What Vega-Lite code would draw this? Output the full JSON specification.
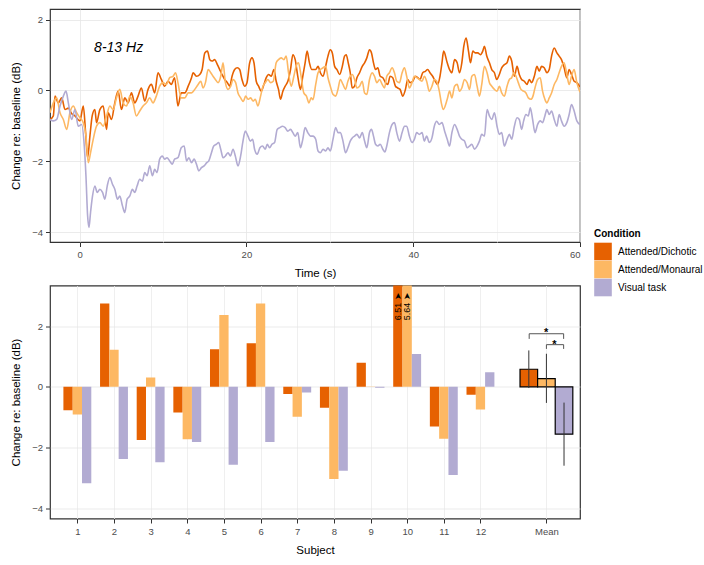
{
"$schema": "https://vega.github.io/schema/vega-lite/v6.json",
"background": "white",
"padding": {"left": 10, "top": 8, "right": 5, "bottom": 5},
"spacing": 43.5,
"bounds": "flush",
"resolve": {"legend": {"color": "independent"}},
"config": {
  "font": "Liberation Sans",
  "view": {"stroke": "#333333", "strokeWidth": 1.2},
  "axis": {"domain": false, "labelFontSize": 9.5, "labelColor": "#4d4d4d", "tickColor": "#333333", "tickSize": 4.5, "labelPadding": 3, "titleFontSize": 11.5, "titleFontWeight": "normal", "titleColor": "#000000", "gridWidth": 0.8},
  "axisY": {"titlePadding": 10},
  "axisX": {"titlePadding": 8},
  "legend": {"padding": 0, "titleFontSize": 10, "titleFontWeight": "bold", "titleColor": "#000000", "labelFontSize": 10, "labelColor": "#000000", "symbolType": "square", "symbolSize": 310, "rowPadding": 0, "symbolStrokeWidth": 0, "labelOffset": 6, "titlePadding": 4, "symbolOpacity": 1}
},
"datasets": {
"eeg": [
{"time":-3.55,"value":-0.82,"condition":"D"},{"time":-3.15,"value":-0.72,"condition":"D"},{"time":-2.95,"value":-0.16,"condition":"D"},{"time":-2.55,"value":-0.35,"condition":"D"},{"time":-2.15,"value":-0.21,"condition":"D"},{"time":-1.75,"value":-0.54,"condition":"D"},{"time":-1.35,"value":-0.5,"condition":"D"},{"time":-0.96,"value":-0.65,"condition":"D"},{"time":-0.56,"value":-0.72,"condition":"D"},{"time":0.04,"value":-0.86,"condition":"D"},{"time":0.44,"value":-0.44,"condition":"D"},{"time":0.72,"value":-1.19,"condition":"D"},{"time":0.96,"value":-1.9,"condition":"D"},{"time":1.24,"value":-1.28,"condition":"D"},{"time":1.51,"value":-0.72,"condition":"D"},{"time":1.83,"value":-0.54,"condition":"D"},{"time":2.03,"value":-0.91,"condition":"D"},{"time":2.43,"value":-0.54,"condition":"D"},{"time":2.83,"value":-0.44,"condition":"D"},{"time":3.23,"value":-1.1,"condition":"D"},{"time":3.43,"value":-0.63,"condition":"D"},{"time":3.82,"value":-0.82,"condition":"D"},{"time":4.22,"value":-0.35,"condition":"D"},{"time":4.62,"value":-0.02,"condition":"D"},{"time":5.02,"value":-0.54,"condition":"D"},{"time":5.42,"value":-0.21,"condition":"D"},{"time":5.82,"value":-0.35,"condition":"D"},{"time":6.22,"value":-0.07,"condition":"D"},{"time":6.61,"value":-0.35,"condition":"D"},{"time":7.01,"value":-0.16,"condition":"D"},{"time":7.41,"value":0.07,"condition":"D"},{"time":7.81,"value":-0.3,"condition":"D"},{"time":8.21,"value":0.03,"condition":"D"},{"time":8.61,"value":0.17,"condition":"D"},{"time":9.0,"value":-0.07,"condition":"D"},{"time":9.4,"value":0.5,"condition":"D"},{"time":9.8,"value":0.31,"condition":"D"},{"time":10.2,"value":0.12,"condition":"D"},{"time":10.6,"value":0.26,"condition":"D"},{"time":11.0,"value":0.17,"condition":"D"},{"time":11.39,"value":0.36,"condition":"D"},{"time":11.79,"value":-0.44,"condition":"D"},{"time":12.19,"value":-0.07,"condition":"D"},{"time":12.62,"value":-0.07,"condition":"D"},{"time":13.02,"value":0.12,"condition":"D"},{"time":13.42,"value":0.36,"condition":"D"},{"time":13.61,"value":0.5,"condition":"D"},{"time":14.01,"value":0.4,"condition":"D"},{"time":14.41,"value":0.45,"condition":"D"},{"time":14.69,"value":0.59,"condition":"D"},{"time":15.01,"value":1.06,"condition":"D"},{"time":15.33,"value":1.11,"condition":"D"},{"time":15.61,"value":0.87,"condition":"D"},{"time":15.89,"value":0.83,"condition":"D"},{"time":16.2,"value":0.87,"condition":"D"},{"time":16.52,"value":0.73,"condition":"D"},{"time":16.8,"value":0.59,"condition":"D"},{"time":17.08,"value":0.45,"condition":"D"},{"time":17.4,"value":0.31,"condition":"D"},{"time":17.72,"value":0.22,"condition":"D"},{"time":18.0,"value":0.12,"condition":"D"},{"time":18.28,"value":0.4,"condition":"D"},{"time":18.59,"value":0.59,"condition":"D"},{"time":18.91,"value":0.64,"condition":"D"},{"time":19.19,"value":0.59,"condition":"D"},{"time":19.47,"value":0.31,"condition":"D"},{"time":19.79,"value":0.12,"condition":"D"},{"time":20.07,"value":0.22,"condition":"D"},{"time":20.39,"value":0.78,"condition":"D"},{"time":20.67,"value":0.92,"condition":"D"},{"time":20.91,"value":0.78,"condition":"D"},{"time":21.18,"value":0.26,"condition":"D"},{"time":21.46,"value":0.12,"condition":"D"},{"time":21.78,"value":-0.02,"condition":"D"},{"time":22.1,"value":0.17,"condition":"D"},{"time":22.38,"value":0.36,"condition":"D"},{"time":22.66,"value":0.45,"condition":"D"},{"time":22.98,"value":0.4,"condition":"D"},{"time":23.3,"value":0.59,"condition":"D"},{"time":23.57,"value":0.26,"condition":"D"},{"time":23.85,"value":0.03,"condition":"D"},{"time":24.09,"value":-0.25,"condition":"D"},{"time":24.37,"value":-0.02,"condition":"D"},{"time":24.65,"value":0.12,"condition":"D"},{"time":24.97,"value":0.26,"condition":"D"},{"time":25.29,"value":0.59,"condition":"D"},{"time":25.57,"value":1.01,"condition":"D"},{"time":25.85,"value":0.87,"condition":"D"},{"time":26.16,"value":0.4,"condition":"D"},{"time":26.48,"value":0.03,"condition":"D"},{"time":26.76,"value":0.4,"condition":"D"},{"time":27.04,"value":0.78,"condition":"D"},{"time":27.28,"value":1.11,"condition":"D"},{"time":27.56,"value":0.78,"condition":"D"},{"time":27.84,"value":0.59,"condition":"D"},{"time":28.31,"value":0.59,"condition":"D"},{"time":28.59,"value":0.68,"condition":"D"},{"time":28.87,"value":0.5,"condition":"D"},{"time":29.19,"value":0.4,"condition":"D"},{"time":29.5,"value":0.68,"condition":"D"},{"time":29.78,"value":0.97,"condition":"D"},{"time":30.06,"value":1.15,"condition":"D"},{"time":30.3,"value":1.06,"condition":"D"},{"time":30.58,"value":0.68,"condition":"D"},{"time":30.86,"value":0.59,"condition":"D"},{"time":31.18,"value":0.45,"condition":"D"},{"time":31.5,"value":0.68,"condition":"D"},{"time":31.77,"value":0.97,"condition":"D"},{"time":31.97,"value":1.01,"condition":"D"},{"time":32.21,"value":0.78,"condition":"D"},{"time":32.45,"value":0.5,"condition":"D"},{"time":32.69,"value":0.07,"condition":"D"},{"time":32.97,"value":0.12,"condition":"D"},{"time":33.25,"value":0.36,"condition":"D"},{"time":33.57,"value":0.5,"condition":"D"},{"time":33.89,"value":0.68,"condition":"D"},{"time":34.17,"value":0.78,"condition":"D"},{"time":34.44,"value":0.92,"condition":"D"},{"time":34.76,"value":1.15,"condition":"D"},{"time":35.0,"value":1.06,"condition":"D"},{"time":35.24,"value":0.78,"condition":"D"},{"time":35.48,"value":0.59,"condition":"D"},{"time":35.76,"value":0.64,"condition":"D"},{"time":36.04,"value":0.4,"condition":"D"},{"time":36.36,"value":0.36,"condition":"D"},{"time":36.68,"value":0.22,"condition":"D"},{"time":36.95,"value":0.17,"condition":"D"},{"time":37.23,"value":0.4,"condition":"D"},{"time":37.55,"value":0.36,"condition":"D"},{"time":37.87,"value":0.12,"condition":"D"},{"time":38.15,"value":0.07,"condition":"D"},{"time":38.43,"value":0.03,"condition":"D"},{"time":38.75,"value":-0.16,"condition":"D"},{"time":39.07,"value":0.03,"condition":"D"},{"time":39.34,"value":0.31,"condition":"D"},{"time":39.62,"value":0.22,"condition":"D"},{"time":39.94,"value":0.26,"condition":"D"},{"time":40.26,"value":0.4,"condition":"D"},{"time":40.54,"value":0.36,"condition":"D"},{"time":40.82,"value":0.31,"condition":"D"},{"time":41.14,"value":0.5,"condition":"D"},{"time":41.46,"value":0.54,"condition":"D"},{"time":41.73,"value":0.59,"condition":"D"},{"time":42.01,"value":0.5,"condition":"D"},{"time":42.33,"value":0.4,"condition":"D"},{"time":42.65,"value":0.26,"condition":"D"},{"time":42.93,"value":0.17,"condition":"D"},{"time":43.21,"value":0.4,"condition":"D"},{"time":43.45,"value":0.78,"condition":"D"},{"time":43.65,"value":1.11,"condition":"D"},{"time":44.08,"value":0.78,"condition":"D"},{"time":44.36,"value":0.59,"condition":"D"},{"time":44.64,"value":0.5,"condition":"D"},{"time":44.96,"value":0.87,"condition":"D"},{"time":45.27,"value":0.78,"condition":"D"},{"time":45.55,"value":0.5,"condition":"D"},{"time":45.83,"value":0.78,"condition":"D"},{"time":46.07,"value":1.25,"condition":"D"},{"time":46.35,"value":1.48,"condition":"D"},{"time":46.63,"value":1.11,"condition":"D"},{"time":46.87,"value":0.78,"condition":"D"},{"time":47.15,"value":1.11,"condition":"D"},{"time":47.43,"value":1.06,"condition":"D"},{"time":47.74,"value":1.06,"condition":"D"},{"time":48.06,"value":1.01,"condition":"D"},{"time":48.34,"value":1.11,"condition":"D"},{"time":48.54,"value":1.25,"condition":"D"},{"time":48.82,"value":0.97,"condition":"D"},{"time":49.14,"value":0.78,"condition":"D"},{"time":49.42,"value":0.59,"condition":"D"},{"time":49.74,"value":0.5,"condition":"D"},{"time":50.01,"value":0.31,"condition":"D"},{"time":50.33,"value":0.45,"condition":"D"},{"time":50.61,"value":0.64,"condition":"D"},{"time":50.93,"value":0.73,"condition":"D"},{"time":51.25,"value":0.78,"condition":"D"},{"time":51.53,"value":0.97,"condition":"D"},{"time":51.81,"value":0.83,"condition":"D"},{"time":52.13,"value":0.4,"condition":"D"},{"time":52.45,"value":0.68,"condition":"D"},{"time":52.72,"value":0.45,"condition":"D"},{"time":53.0,"value":0.31,"condition":"D"},{"time":53.32,"value":0.26,"condition":"D"},{"time":53.64,"value":0.17,"condition":"D"},{"time":53.92,"value":0.31,"condition":"D"},{"time":54.2,"value":0.22,"condition":"D"},{"time":54.52,"value":0.4,"condition":"D"},{"time":54.84,"value":0.68,"condition":"D"},{"time":55.11,"value":0.54,"condition":"D"},{"time":55.39,"value":0.68,"condition":"D"},{"time":55.71,"value":0.64,"condition":"D"},{"time":56.03,"value":0.5,"condition":"D"},{"time":56.31,"value":0.59,"condition":"D"},{"time":56.59,"value":0.97,"condition":"D"},{"time":56.91,"value":1.2,"condition":"D"},{"time":57.23,"value":1.06,"condition":"D"},{"time":57.5,"value":0.97,"condition":"D"},{"time":57.78,"value":0.87,"condition":"D"},{"time":58.1,"value":0.64,"condition":"D"},{"time":58.42,"value":0.36,"condition":"D"},{"time":58.7,"value":0.59,"condition":"D"},{"time":58.98,"value":0.45,"condition":"D"},{"time":59.3,"value":0.26,"condition":"D"},{"time":59.62,"value":0.22,"condition":"D"},{"time":60.0,"value":0.1,"condition":"D"},
{"time":-3.55,"value":-0.63,"condition":"M"},{"time":-3.15,"value":-0.35,"condition":"M"},{"time":-2.75,"value":-0.21,"condition":"M"},{"time":-2.35,"value":-0.63,"condition":"M"},{"time":-1.95,"value":-0.82,"condition":"M"},{"time":-1.55,"value":-1.1,"condition":"M"},{"time":-1.16,"value":-0.63,"condition":"M"},{"time":-0.76,"value":-0.44,"condition":"M"},{"time":-0.36,"value":-0.63,"condition":"M"},{"time":0.04,"value":-0.77,"condition":"M"},{"time":0.44,"value":-0.91,"condition":"M"},{"time":0.76,"value":-1.28,"condition":"M"},{"time":1.04,"value":-2.04,"condition":"M"},{"time":1.31,"value":-1.76,"condition":"M"},{"time":1.63,"value":-1.38,"condition":"M"},{"time":2.03,"value":-1.01,"condition":"M"},{"time":2.43,"value":-0.91,"condition":"M"},{"time":2.83,"value":-1.01,"condition":"M"},{"time":3.23,"value":-0.72,"condition":"M"},{"time":3.63,"value":-0.44,"condition":"M"},{"time":4.02,"value":-0.54,"condition":"M"},{"time":4.42,"value":-0.21,"condition":"M"},{"time":4.82,"value":0.03,"condition":"M"},{"time":5.22,"value":-0.35,"condition":"M"},{"time":5.62,"value":-0.44,"condition":"M"},{"time":6.02,"value":-0.16,"condition":"M"},{"time":6.41,"value":-0.35,"condition":"M"},{"time":6.81,"value":-0.72,"condition":"M"},{"time":7.21,"value":-0.58,"condition":"M"},{"time":7.61,"value":-0.44,"condition":"M"},{"time":8.01,"value":-0.35,"condition":"M"},{"time":8.41,"value":-0.21,"condition":"M"},{"time":8.8,"value":-0.35,"condition":"M"},{"time":9.2,"value":-0.16,"condition":"M"},{"time":9.6,"value":0.12,"condition":"M"},{"time":10.0,"value":0.22,"condition":"M"},{"time":10.4,"value":0.17,"condition":"M"},{"time":10.8,"value":0.36,"condition":"M"},{"time":11.2,"value":0.4,"condition":"M"},{"time":11.51,"value":0.5,"condition":"M"},{"time":11.79,"value":0.22,"condition":"M"},{"time":12.19,"value":-0.21,"condition":"M"},{"time":12.62,"value":-0.21,"condition":"M"},{"time":13.02,"value":-0.07,"condition":"M"},{"time":13.42,"value":-0.07,"condition":"M"},{"time":13.81,"value":0.03,"condition":"M"},{"time":14.21,"value":0.17,"condition":"M"},{"time":14.53,"value":0.26,"condition":"M"},{"time":14.81,"value":0.07,"condition":"M"},{"time":15.09,"value":0.22,"condition":"M"},{"time":15.41,"value":0.59,"condition":"M"},{"time":15.73,"value":0.5,"condition":"M"},{"time":16.0,"value":0.4,"condition":"M"},{"time":16.28,"value":0.31,"condition":"M"},{"time":16.6,"value":0.22,"condition":"M"},{"time":16.92,"value":0.4,"condition":"M"},{"time":17.2,"value":0.78,"condition":"M"},{"time":17.48,"value":0.22,"condition":"M"},{"time":17.8,"value":0.03,"condition":"M"},{"time":18.12,"value":0.12,"condition":"M"},{"time":18.4,"value":0.31,"condition":"M"},{"time":18.71,"value":0.22,"condition":"M"},{"time":18.99,"value":-0.07,"condition":"M"},{"time":19.31,"value":-0.21,"condition":"M"},{"time":19.63,"value":-0.31,"condition":"M"},{"time":19.91,"value":-0.16,"condition":"M"},{"time":20.19,"value":-0.25,"condition":"M"},{"time":20.51,"value":-0.21,"condition":"M"},{"time":20.79,"value":-0.3,"condition":"M"},{"time":21.06,"value":-0.25,"condition":"M"},{"time":21.38,"value":-0.44,"condition":"M"},{"time":21.7,"value":-0.16,"condition":"M"},{"time":21.98,"value":0.12,"condition":"M"},{"time":22.26,"value":0.22,"condition":"M"},{"time":22.58,"value":0.31,"condition":"M"},{"time":22.9,"value":0.22,"condition":"M"},{"time":23.22,"value":0.26,"condition":"M"},{"time":23.57,"value":0.78,"condition":"M"},{"time":23.85,"value":0.87,"condition":"M"},{"time":24.17,"value":0.92,"condition":"M"},{"time":24.49,"value":0.87,"condition":"M"},{"time":24.77,"value":0.97,"condition":"M"},{"time":25.05,"value":0.5,"condition":"M"},{"time":25.37,"value":0.12,"condition":"M"},{"time":25.69,"value":0.4,"condition":"M"},{"time":25.96,"value":0.68,"condition":"M"},{"time":26.24,"value":0.78,"condition":"M"},{"time":26.56,"value":0.4,"condition":"M"},{"time":26.88,"value":-0.07,"condition":"M"},{"time":27.2,"value":-0.16,"condition":"M"},{"time":27.5,"value":-0.35,"condition":"M"},{"time":27.76,"value":-0.21,"condition":"M"},{"time":27.99,"value":-0.26,"condition":"M"},{"time":28.31,"value":0.17,"condition":"M"},{"time":28.59,"value":0.5,"condition":"M"},{"time":28.87,"value":0.59,"condition":"M"},{"time":29.19,"value":0.64,"condition":"M"},{"time":29.5,"value":0.68,"condition":"M"},{"time":29.78,"value":0.36,"condition":"M"},{"time":30.06,"value":0.12,"condition":"M"},{"time":30.38,"value":-0.11,"condition":"M"},{"time":30.7,"value":-0.16,"condition":"M"},{"time":30.98,"value":0.03,"condition":"M"},{"time":31.26,"value":0.31,"condition":"M"},{"time":31.58,"value":0.17,"condition":"M"},{"time":31.89,"value":0.03,"condition":"M"},{"time":32.17,"value":0.26,"condition":"M"},{"time":32.45,"value":0.4,"condition":"M"},{"time":32.69,"value":0.45,"condition":"M"},{"time":32.97,"value":0.31,"condition":"M"},{"time":33.25,"value":0.07,"condition":"M"},{"time":33.57,"value":0.12,"condition":"M"},{"time":33.89,"value":0.26,"condition":"M"},{"time":34.17,"value":-0.07,"condition":"M"},{"time":34.44,"value":-0.11,"condition":"M"},{"time":34.76,"value":0.31,"condition":"M"},{"time":35.08,"value":0.5,"condition":"M"},{"time":35.36,"value":0.4,"condition":"M"},{"time":35.64,"value":0.22,"condition":"M"},{"time":35.96,"value":0.31,"condition":"M"},{"time":36.28,"value":0.17,"condition":"M"},{"time":36.56,"value":0.07,"condition":"M"},{"time":36.83,"value":0.4,"condition":"M"},{"time":37.15,"value":0.5,"condition":"M"},{"time":37.47,"value":0.64,"condition":"M"},{"time":37.75,"value":0.5,"condition":"M"},{"time":38.03,"value":0.26,"condition":"M"},{"time":38.35,"value":0.22,"condition":"M"},{"time":38.67,"value":0.5,"condition":"M"},{"time":38.95,"value":0.64,"condition":"M"},{"time":39.22,"value":0.4,"condition":"M"},{"time":39.54,"value":0.07,"condition":"M"},{"time":39.86,"value":0.22,"condition":"M"},{"time":40.14,"value":0.4,"condition":"M"},{"time":40.42,"value":0.36,"condition":"M"},{"time":40.74,"value":0.31,"condition":"M"},{"time":41.06,"value":0.26,"condition":"M"},{"time":41.34,"value":0.4,"condition":"M"},{"time":41.61,"value":0.26,"condition":"M"},{"time":41.93,"value":-0.02,"condition":"M"},{"time":42.25,"value":0.12,"condition":"M"},{"time":42.53,"value":0.31,"condition":"M"},{"time":42.81,"value":0.26,"condition":"M"},{"time":43.13,"value":-0.02,"condition":"M"},{"time":43.37,"value":-0.35,"condition":"M"},{"time":43.61,"value":-0.54,"condition":"M"},{"time":44.08,"value":-0.25,"condition":"M"},{"time":44.36,"value":-0.02,"condition":"M"},{"time":44.64,"value":-0.21,"condition":"M"},{"time":44.96,"value":0.12,"condition":"M"},{"time":45.27,"value":0.17,"condition":"M"},{"time":45.55,"value":-0.02,"condition":"M"},{"time":45.83,"value":0.07,"condition":"M"},{"time":46.15,"value":0.31,"condition":"M"},{"time":46.47,"value":0.22,"condition":"M"},{"time":46.75,"value":0.03,"condition":"M"},{"time":47.03,"value":0.4,"condition":"M"},{"time":47.35,"value":0.45,"condition":"M"},{"time":47.66,"value":0.12,"condition":"M"},{"time":47.94,"value":-0.16,"condition":"M"},{"time":48.22,"value":0.17,"condition":"M"},{"time":48.54,"value":0.68,"condition":"M"},{"time":48.86,"value":0.5,"condition":"M"},{"time":49.14,"value":0.22,"condition":"M"},{"time":49.42,"value":0.12,"condition":"M"},{"time":49.74,"value":0.03,"condition":"M"},{"time":50.05,"value":-0.02,"condition":"M"},{"time":50.33,"value":0.12,"condition":"M"},{"time":50.61,"value":-0.07,"condition":"M"},{"time":50.93,"value":-0.16,"condition":"M"},{"time":51.25,"value":0.12,"condition":"M"},{"time":51.53,"value":0.31,"condition":"M"},{"time":51.81,"value":0.36,"condition":"M"},{"time":52.05,"value":0.5,"condition":"M"},{"time":52.33,"value":0.4,"condition":"M"},{"time":52.6,"value":0.22,"condition":"M"},{"time":52.92,"value":0.03,"condition":"M"},{"time":53.24,"value":-0.02,"condition":"M"},{"time":53.52,"value":-0.07,"condition":"M"},{"time":53.8,"value":-0.21,"condition":"M"},{"time":54.12,"value":-0.25,"condition":"M"},{"time":54.36,"value":-0.16,"condition":"M"},{"time":54.6,"value":0.07,"condition":"M"},{"time":54.92,"value":0.31,"condition":"M"},{"time":55.23,"value":0.36,"condition":"M"},{"time":55.51,"value":-0.02,"condition":"M"},{"time":55.79,"value":-0.25,"condition":"M"},{"time":56.03,"value":-0.35,"condition":"M"},{"time":56.31,"value":-0.21,"condition":"M"},{"time":56.59,"value":-0.07,"condition":"M"},{"time":56.91,"value":0.17,"condition":"M"},{"time":57.23,"value":0.31,"condition":"M"},{"time":57.5,"value":0.5,"condition":"M"},{"time":57.78,"value":0.68,"condition":"M"},{"time":58.1,"value":0.78,"condition":"M"},{"time":58.42,"value":0.45,"condition":"M"},{"time":58.7,"value":0.17,"condition":"M"},{"time":58.98,"value":0.4,"condition":"M"},{"time":59.3,"value":0.59,"condition":"M"},{"time":59.62,"value":0.22,"condition":"M"},{"time":60.0,"value":-0.05,"condition":"M"},
{"time":-3.55,"value":-0.82,"condition":"V"},{"time":-3.15,"value":-0.86,"condition":"V"},{"time":-2.75,"value":-0.82,"condition":"V"},{"time":-2.35,"value":-0.44,"condition":"V"},{"time":-1.95,"value":-0.16,"condition":"V"},{"time":-1.63,"value":-0.02,"condition":"V"},{"time":-1.35,"value":-0.35,"condition":"V"},{"time":-0.96,"value":-0.82,"condition":"V"},{"time":-0.56,"value":-0.54,"condition":"V"},{"time":-0.16,"value":-1.01,"condition":"V"},{"time":0.24,"value":-0.96,"condition":"V"},{"time":0.56,"value":-1.57,"condition":"V"},{"time":0.76,"value":-2.41,"condition":"V"},{"time":0.96,"value":-3.54,"condition":"V"},{"time":1.12,"value":-3.87,"condition":"V"},{"time":1.31,"value":-3.45,"condition":"V"},{"time":1.55,"value":-2.98,"condition":"V"},{"time":1.83,"value":-2.7,"condition":"V"},{"time":2.11,"value":-2.88,"condition":"V"},{"time":2.43,"value":-2.79,"condition":"V"},{"time":2.75,"value":-2.88,"condition":"V"},{"time":3.03,"value":-3.07,"condition":"V"},{"time":3.31,"value":-2.7,"condition":"V"},{"time":3.63,"value":-2.46,"condition":"V"},{"time":3.94,"value":-2.65,"condition":"V"},{"time":4.22,"value":-2.79,"condition":"V"},{"time":4.54,"value":-3.07,"condition":"V"},{"time":4.82,"value":-2.98,"condition":"V"},{"time":5.14,"value":-3.26,"condition":"V"},{"time":5.42,"value":-3.45,"condition":"V"},{"time":5.7,"value":-3.07,"condition":"V"},{"time":6.02,"value":-2.98,"condition":"V"},{"time":6.33,"value":-2.79,"condition":"V"},{"time":6.61,"value":-2.88,"condition":"V"},{"time":6.89,"value":-2.7,"condition":"V"},{"time":7.21,"value":-2.51,"condition":"V"},{"time":7.53,"value":-2.56,"condition":"V"},{"time":7.81,"value":-2.32,"condition":"V"},{"time":8.09,"value":-2.41,"condition":"V"},{"time":8.41,"value":-2.13,"condition":"V"},{"time":8.73,"value":-2.41,"condition":"V"},{"time":9.0,"value":-2.23,"condition":"V"},{"time":9.28,"value":-2.32,"condition":"V"},{"time":9.6,"value":-1.94,"condition":"V"},{"time":9.92,"value":-1.85,"condition":"V"},{"time":10.2,"value":-1.94,"condition":"V"},{"time":10.48,"value":-1.9,"condition":"V"},{"time":10.8,"value":-1.99,"condition":"V"},{"time":11.12,"value":-2.08,"condition":"V"},{"time":11.39,"value":-1.94,"condition":"V"},{"time":11.79,"value":-1.9,"condition":"V"},{"time":12.19,"value":-1.62,"condition":"V"},{"time":12.54,"value":-1.57,"condition":"V"},{"time":12.82,"value":-1.99,"condition":"V"},{"time":13.1,"value":-1.9,"condition":"V"},{"time":13.42,"value":-2.04,"condition":"V"},{"time":13.73,"value":-1.94,"condition":"V"},{"time":14.01,"value":-2.08,"condition":"V"},{"time":14.29,"value":-2.27,"condition":"V"},{"time":14.61,"value":-2.18,"condition":"V"},{"time":14.93,"value":-2.13,"condition":"V"},{"time":15.25,"value":-2.04,"condition":"V"},{"time":15.49,"value":-1.99,"condition":"V"},{"time":15.81,"value":-1.76,"condition":"V"},{"time":16.08,"value":-1.57,"condition":"V"},{"time":16.4,"value":-1.52,"condition":"V"},{"time":16.68,"value":-1.47,"condition":"V"},{"time":16.92,"value":-1.66,"condition":"V"},{"time":17.2,"value":-1.9,"condition":"V"},{"time":17.48,"value":-1.85,"condition":"V"},{"time":17.8,"value":-1.76,"condition":"V"},{"time":18.08,"value":-1.85,"condition":"V"},{"time":18.4,"value":-1.66,"condition":"V"},{"time":18.67,"value":-1.85,"condition":"V"},{"time":18.99,"value":-2.13,"condition":"V"},{"time":19.31,"value":-1.85,"condition":"V"},{"time":19.59,"value":-1.43,"condition":"V"},{"time":19.87,"value":-1.15,"condition":"V"},{"time":20.19,"value":-1.29,"condition":"V"},{"time":20.47,"value":-1.43,"condition":"V"},{"time":20.75,"value":-1.38,"condition":"V"},{"time":20.98,"value":-1.66,"condition":"V"},{"time":21.3,"value":-1.8,"condition":"V"},{"time":21.62,"value":-1.62,"condition":"V"},{"time":21.94,"value":-1.57,"condition":"V"},{"time":22.26,"value":-1.66,"condition":"V"},{"time":22.5,"value":-1.52,"condition":"V"},{"time":22.78,"value":-1.62,"condition":"V"},{"time":23.06,"value":-1.52,"condition":"V"},{"time":23.38,"value":-1.47,"condition":"V"},{"time":23.69,"value":-1.1,"condition":"V"},{"time":24.01,"value":-1.05,"condition":"V"},{"time":24.33,"value":-1.01,"condition":"V"},{"time":24.65,"value":-1.05,"condition":"V"},{"time":24.97,"value":-1.15,"condition":"V"},{"time":25.29,"value":-1.1,"condition":"V"},{"time":25.57,"value":-1.19,"condition":"V"},{"time":25.85,"value":-1.29,"condition":"V"},{"time":26.16,"value":-1.19,"condition":"V"},{"time":26.48,"value":-1.62,"condition":"V"},{"time":26.76,"value":-1.38,"condition":"V"},{"time":27.04,"value":-1.05,"condition":"V"},{"time":27.36,"value":-1.19,"condition":"V"},{"time":27.68,"value":-1.29,"condition":"V"},{"time":27.99,"value":-1.29,"condition":"V"},{"time":28.31,"value":-1.38,"condition":"V"},{"time":28.59,"value":-1.71,"condition":"V"},{"time":28.87,"value":-1.76,"condition":"V"},{"time":29.19,"value":-1.66,"condition":"V"},{"time":29.5,"value":-1.71,"condition":"V"},{"time":29.78,"value":-1.62,"condition":"V"},{"time":30.06,"value":-1.71,"condition":"V"},{"time":30.38,"value":-1.38,"condition":"V"},{"time":30.7,"value":-1.05,"condition":"V"},{"time":30.98,"value":-1.19,"condition":"V"},{"time":31.26,"value":-1.19,"condition":"V"},{"time":31.58,"value":-1.43,"condition":"V"},{"time":31.89,"value":-1.76,"condition":"V"},{"time":32.17,"value":-1.62,"condition":"V"},{"time":32.45,"value":-1.43,"condition":"V"},{"time":32.69,"value":-1.34,"condition":"V"},{"time":32.97,"value":-1.29,"condition":"V"},{"time":33.25,"value":-1.24,"condition":"V"},{"time":33.57,"value":-1.34,"condition":"V"},{"time":33.89,"value":-1.19,"condition":"V"},{"time":34.17,"value":-1.43,"condition":"V"},{"time":34.44,"value":-1.62,"condition":"V"},{"time":34.76,"value":-1.19,"condition":"V"},{"time":35.0,"value":-1.1,"condition":"V"},{"time":35.24,"value":-1.29,"condition":"V"},{"time":35.48,"value":-1.52,"condition":"V"},{"time":35.76,"value":-1.57,"condition":"V"},{"time":36.04,"value":-1.52,"condition":"V"},{"time":36.36,"value":-1.66,"condition":"V"},{"time":36.6,"value":-1.74,"condition":"V"},{"time":36.83,"value":-1.57,"condition":"V"},{"time":37.15,"value":-1.19,"condition":"V"},{"time":37.47,"value":-0.96,"condition":"V"},{"time":37.75,"value":-0.91,"condition":"V"},{"time":38.03,"value":-1.19,"condition":"V"},{"time":38.35,"value":-1.43,"condition":"V"},{"time":38.67,"value":-1.19,"condition":"V"},{"time":38.95,"value":-1.01,"condition":"V"},{"time":39.22,"value":-1.01,"condition":"V"},{"time":39.54,"value":-1.29,"condition":"V"},{"time":39.86,"value":-1.47,"condition":"V"},{"time":40.14,"value":-1.38,"condition":"V"},{"time":40.42,"value":-1.19,"condition":"V"},{"time":40.74,"value":-1.24,"condition":"V"},{"time":41.06,"value":-1.19,"condition":"V"},{"time":41.34,"value":-1.43,"condition":"V"},{"time":41.61,"value":-1.29,"condition":"V"},{"time":41.93,"value":-1.47,"condition":"V"},{"time":42.25,"value":-1.34,"condition":"V"},{"time":42.53,"value":-1.01,"condition":"V"},{"time":42.81,"value":-0.87,"condition":"V"},{"time":43.13,"value":-0.96,"condition":"V"},{"time":43.45,"value":-0.91,"condition":"V"},{"time":43.77,"value":-1.15,"condition":"V"},{"time":44.08,"value":-1.38,"condition":"V"},{"time":44.36,"value":-1.57,"condition":"V"},{"time":44.64,"value":-1.19,"condition":"V"},{"time":44.96,"value":-0.96,"condition":"V"},{"time":45.27,"value":-1.1,"condition":"V"},{"time":45.55,"value":-1.29,"condition":"V"},{"time":45.83,"value":-1.38,"condition":"V"},{"time":46.15,"value":-1.43,"condition":"V"},{"time":46.47,"value":-1.62,"condition":"V"},{"time":46.75,"value":-1.57,"condition":"V"},{"time":47.03,"value":-1.52,"condition":"V"},{"time":47.35,"value":-1.66,"condition":"V"},{"time":47.66,"value":-1.57,"condition":"V"},{"time":47.94,"value":-1.43,"condition":"V"},{"time":48.22,"value":-1.24,"condition":"V"},{"time":48.54,"value":-1.29,"condition":"V"},{"time":48.86,"value":-0.54,"condition":"V"},{"time":49.14,"value":-0.72,"condition":"V"},{"time":49.42,"value":-0.82,"condition":"V"},{"time":49.74,"value":-0.63,"condition":"V"},{"time":50.05,"value":-1.01,"condition":"V"},{"time":50.33,"value":-1.24,"condition":"V"},{"time":50.61,"value":-1.19,"condition":"V"},{"time":50.93,"value":-1.57,"condition":"V"},{"time":51.25,"value":-1.38,"condition":"V"},{"time":51.53,"value":-1.24,"condition":"V"},{"time":51.81,"value":-1.38,"condition":"V"},{"time":52.13,"value":-1.01,"condition":"V"},{"time":52.45,"value":-0.77,"condition":"V"},{"time":52.72,"value":-0.82,"condition":"V"},{"time":53.0,"value":-1.1,"condition":"V"},{"time":53.24,"value":-0.86,"condition":"V"},{"time":53.52,"value":-0.68,"condition":"V"},{"time":53.8,"value":-0.72,"condition":"V"},{"time":54.04,"value":-0.49,"condition":"V"},{"time":54.32,"value":-0.82,"condition":"V"},{"time":54.6,"value":-1.19,"condition":"V"},{"time":54.92,"value":-0.96,"condition":"V"},{"time":55.23,"value":-0.86,"condition":"V"},{"time":55.51,"value":-0.91,"condition":"V"},{"time":55.79,"value":-0.72,"condition":"V"},{"time":56.03,"value":-0.54,"condition":"V"},{"time":56.31,"value":-0.68,"condition":"V"},{"time":56.59,"value":-0.58,"condition":"V"},{"time":56.91,"value":-0.82,"condition":"V"},{"time":57.23,"value":-1.01,"condition":"V"},{"time":57.5,"value":-0.68,"condition":"V"},{"time":57.78,"value":-0.86,"condition":"V"},{"time":58.1,"value":-1.01,"condition":"V"},{"time":58.42,"value":-0.91,"condition":"V"},{"time":58.7,"value":-0.68,"condition":"V"},{"time":58.98,"value":-0.4,"condition":"V"},{"time":59.3,"value":-0.58,"condition":"V"},{"time":59.62,"value":-0.86,"condition":"V"},{"time":60.0,"value":-0.96,"condition":"V"}
],
"bars": [
{"subject":1,"condition":"D","value":-0.77},{"subject":1,"condition":"M","value":-0.91},{"subject":1,"condition":"V","value":-3.18},
{"subject":2,"condition":"D","value":2.75},{"subject":2,"condition":"M","value":1.22},{"subject":2,"condition":"V","value":-2.38},
{"subject":3,"condition":"D","value":-1.75},{"subject":3,"condition":"M","value":0.31},{"subject":3,"condition":"V","value":-2.49},
{"subject":4,"condition":"D","value":-0.85},{"subject":4,"condition":"M","value":-1.73},{"subject":4,"condition":"V","value":-1.82},
{"subject":5,"condition":"D","value":1.24},{"subject":5,"condition":"M","value":2.37},{"subject":5,"condition":"V","value":-2.57},
{"subject":6,"condition":"D","value":1.44},{"subject":6,"condition":"M","value":2.75},{"subject":6,"condition":"V","value":-1.82},
{"subject":7,"condition":"D","value":-0.24},{"subject":7,"condition":"M","value":-0.99},{"subject":7,"condition":"V","value":-0.19},
{"subject":8,"condition":"D","value":-0.69},{"subject":8,"condition":"M","value":-3.04},{"subject":8,"condition":"V","value":-2.77},
{"subject":9,"condition":"D","value":0.79},{"subject":9,"condition":"M","value":0.01},{"subject":9,"condition":"V","value":-0.03},
{"subject":10,"condition":"D","value":6.51},{"subject":10,"condition":"M","value":5.64},{"subject":10,"condition":"V","value":1.08},
{"subject":11,"condition":"D","value":-1.31},{"subject":11,"condition":"M","value":-1.71},{"subject":11,"condition":"V","value":-2.91},
{"subject":12,"condition":"D","value":-0.26},{"subject":12,"condition":"M","value":-0.75},{"subject":12,"condition":"V","value":0.48}
],
"means": [
{"condition":"D","value":0.58,"lo":-0.04,"hi":1.2},
{"condition":"M","value":0.27,"lo":-0.53,"hi":1.09},
{"condition":"V","value":-1.56,"lo":-2.6,"hi":-0.52}
],
"brackets": [
{"x":13.33,"x2":14.27,"y":1.75,"y2":1.75},{"x":13.33,"x2":13.33,"y":1.75,"y2":1.58},{"x":14.27,"x2":14.27,"y":1.75,"y2":1.58},
{"x":13.8,"x2":14.27,"y":1.39,"y2":1.39},{"x":13.8,"x2":13.8,"y":1.39,"y2":1.25},{"x":14.27,"x2":14.27,"y":1.39,"y2":1.25}
],
"stars": [{"x":13.79,"y":1.86,"label":"*"},{"x":14.02,"y":1.49,"label":"*"}]
},
"vconcat": [
{
 "width": 530, "height": 233,
 "layer": [
  {"data": {"name": "eeg"},
   "mark": {"type": "line", "strokeWidth": 1.6, "interpolate": "monotone", "clip": true},
   "encoding": {
    "x": {"field": "time", "type": "quantitative", "scale": {"domain": [-3.55, 60], "nice": false, "zero": false},
          "axis": {"title": "Time (s)", "values": [0,10,20,30,40,50,60], "labelExpr": "datum.value % 20 === 0 ? datum.label : ''",
                   "tickOpacity": {"condition": {"test": "datum.value % 20 === 0", "value": 1}, "value": 0},
                   "gridColor": {"condition": {"test": "datum.value % 20 === 0", "value": "#e6e6e6"}, "value": "#f2f2f2"}}},
    "y": {"field": "value", "type": "quantitative", "scale": {"domain": [-4.28, 2.3], "nice": false, "zero": false},
          "axis": {"title": "Change re: baseline (dB)", "values": [-4,-3,-2,-1,0,1,2], "labelExpr": "datum.value % 2 === 0 ? datum.label : ''",
                   "tickOpacity": {"condition": {"test": "datum.value % 2 === 0", "value": 1}, "value": 0},
                   "gridColor": {"condition": {"test": "datum.value % 2 === 0", "value": "#e6e6e6"}, "value": "#f2f2f2"}}},
    "color": {"field": "condition", "type": "nominal", "scale": {"domain": ["D","M","V"], "range": ["#e66101","#fdb863","#b2abd2"]}, "legend": null}
   }},
  {"data": {"values": [{"label": "8-13 Hz"}]},
   "mark": {"type": "text", "align": "left", "baseline": "middle", "fontSize": 14, "fontStyle": "italic", "color": "#000000"},
   "encoding": {"x": {"datum": 1.74}, "y": {"datum": 1.2}, "text": {"field": "label"}}}
 ]
},
{
 "width": 530, "height": 233,
 "layer": [
  {"data": {"name": "bars"}, "transform": [{"filter": "datum.condition === 'D'"}],
   "mark": {"type": "bar", "orient": "vertical", "width": 9.3, "xOffset": -9.3, "clip": true},
   "encoding": {
    "x": {"field": "subject", "type": "quantitative", "scale": {"domain": [0.39, 14.58], "nice": false, "zero": false},
          "axis": {"title": "Subject", "titlePadding": 9, "values": [1,2,3,4,5,6,7,8,9,10,11,12,13.8], "labelExpr": "datum.value > 13 ? 'Mean' : datum.label", "gridColor": "#ebebeb"}},
    "y": {"field": "value", "type": "quantitative", "scale": {"domain": [-4.34, 3.34], "nice": false, "zero": false},
          "axis": {"title": "Change re: baseline (dB)", "values": [-4,-3,-2,-1,0,1,2,3], "labelExpr": "datum.value % 2 === 0 ? datum.label : ''",
                   "tickOpacity": {"condition": {"test": "datum.value % 2 === 0", "value": 1}, "value": 0},
                   "gridColor": {"condition": {"test": "datum.value % 2 === 0", "value": "#e6e6e6"}, "value": "#f2f2f2"}}},
    "y2": {"datum": 0},
    "color": {"field": "condition", "type": "nominal", "scale": {"domain": ["D","M","V"], "range": ["#e66101","#fdb863","#b2abd2"]},
              "legend": {"title": "Condition", "orient": "none", "legendX": 544, "legendY": -57,
                         "labelExpr": "datum.label === 'D' ? 'Attended/Dichotic' : datum.label === 'M' ? 'Attended/Monaural' : 'Visual task'"}}
   }},
  {"data": {"name": "bars"}, "transform": [{"filter": "datum.condition === 'M'"}],
   "mark": {"type": "bar", "orient": "vertical", "width": 9.3, "xOffset": 0, "clip": true},
   "encoding": {"x": {"field": "subject", "type": "quantitative"}, "y": {"field": "value", "type": "quantitative"}, "y2": {"datum": 0},
                "color": {"field": "condition", "type": "nominal"}}},
  {"data": {"name": "bars"}, "transform": [{"filter": "datum.condition === 'V'"}],
   "mark": {"type": "bar", "orient": "vertical", "width": 9.3, "xOffset": 9.3, "clip": true},
   "encoding": {"x": {"field": "subject", "type": "quantitative"}, "y": {"field": "value", "type": "quantitative"}, "y2": {"datum": 0},
                "color": {"field": "condition", "type": "nominal"}}},
  {"data": {"name": "means"}, "transform": [{"filter": "datum.condition === 'D'"}],
   "mark": {"type": "bar", "orient": "vertical", "width": 17.6, "xOffset": -17.6, "stroke": "#000000", "strokeWidth": 1.2},
   "encoding": {"x": {"datum": 13.8}, "y": {"field": "value", "type": "quantitative"}, "y2": {"datum": 0},
                "color": {"field": "condition", "type": "nominal"}}},
  {"data": {"name": "means"}, "transform": [{"filter": "datum.condition === 'M'"}],
   "mark": {"type": "bar", "orient": "vertical", "width": 17.6, "xOffset": 0, "stroke": "#000000", "strokeWidth": 1.2},
   "encoding": {"x": {"datum": 13.8}, "y": {"field": "value", "type": "quantitative"}, "y2": {"datum": 0},
                "color": {"field": "condition", "type": "nominal"}}},
  {"data": {"name": "means"}, "transform": [{"filter": "datum.condition === 'V'"}],
   "mark": {"type": "bar", "orient": "vertical", "width": 17.6, "xOffset": 17.6, "stroke": "#000000", "strokeWidth": 1.2},
   "encoding": {"x": {"datum": 13.8}, "y": {"field": "value", "type": "quantitative"}, "y2": {"datum": 0},
                "color": {"field": "condition", "type": "nominal"}}},
  {"data": {"name": "means"}, "transform": [{"filter": "datum.condition === 'D'"}],
   "mark": {"type": "rule", "xOffset": -17.6, "color": "#333333", "strokeWidth": 1},
   "encoding": {"x": {"datum": 13.8}, "y": {"field": "lo", "type": "quantitative"}, "y2": {"field": "hi"}}},
  {"data": {"name": "means"}, "transform": [{"filter": "datum.condition === 'M'"}],
   "mark": {"type": "rule", "xOffset": 0, "color": "#333333", "strokeWidth": 1},
   "encoding": {"x": {"datum": 13.8}, "y": {"field": "lo", "type": "quantitative"}, "y2": {"field": "hi"}}},
  {"data": {"name": "means"}, "transform": [{"filter": "datum.condition === 'V'"}],
   "mark": {"type": "rule", "xOffset": 17.6, "color": "#333333", "strokeWidth": 1},
   "encoding": {"x": {"datum": 13.8}, "y": {"field": "lo", "type": "quantitative"}, "y2": {"field": "hi"}}},
  {"data": {"name": "brackets"},
   "mark": {"type": "rule", "color": "#555555", "strokeWidth": 1},
   "encoding": {"x": {"field": "x", "type": "quantitative"}, "x2": {"field": "x2"}, "y": {"field": "y", "type": "quantitative"}, "y2": {"field": "y2"}}},
  {"data": {"name": "stars"},
   "mark": {"type": "text", "fontSize": 11, "fontWeight": "bold", "baseline": "alphabetic", "dy": 6, "color": "#000000"},
   "encoding": {"x": {"field": "x", "type": "quantitative"}, "y": {"field": "y", "type": "quantitative"}, "text": {"field": "label"}}},
  {"data": {"name": "bars"}, "transform": [{"filter": "datum.condition === 'D' && datum.value > 3.34"}, {"calculate": "format(datum.value, '.2f') + ' ➤'", "as": "label"}],
   "mark": {"type": "text", "angle": 270, "align": "right", "baseline": "middle", "fontSize": 9, "xOffset": -9.3, "color": "#000000"},
   "encoding": {"x": {"field": "subject", "type": "quantitative"}, "y": {"datum": 3.12}, "text": {"field": "label"}}},
  {"data": {"name": "bars"}, "transform": [{"filter": "datum.condition === 'M' && datum.value > 3.34"}, {"calculate": "format(datum.value, '.2f') + ' ➤'", "as": "label"}],
   "mark": {"type": "text", "angle": 270, "align": "right", "baseline": "middle", "fontSize": 9, "xOffset": 0, "color": "#000000"},
   "encoding": {"x": {"field": "subject", "type": "quantitative"}, "y": {"datum": 3.12}, "text": {"field": "label"}}}
 ]
}
]
}
